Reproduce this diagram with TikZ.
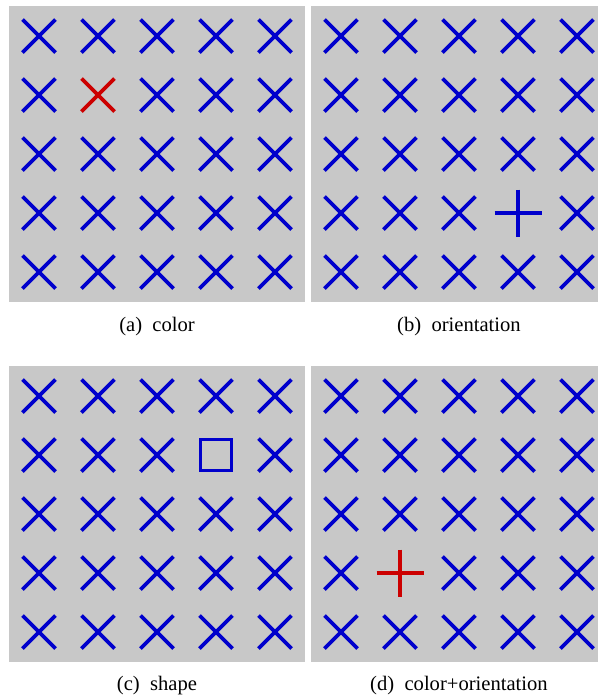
\documentclass[tikz,border=0pt]{standalone}
\usepackage{fontspec}
\setmainfont{Liberation Serif}
\usepackage{tikz}
\usetikzlibrary{positioning}
\definecolor{panelgray}{HTML}{C8C8C8}
\definecolor{itemblue}{HTML}{0000CC}
\definecolor{itemred}{HTML}{CC0000}

\begin{document}
\begin{tikzpicture}[
  x=0.5pt, y=-0.5pt,
  panel/.style={fill=panelgray, minimum width=148pt, minimum height=148pt, inner sep=0pt},
  item/.style={line width=1.8pt, itemblue},
  target/.style={line width=1.8pt, itemred},
  caption/.style={font=\fontsize{10.3}{12}\selectfont, inner sep=0pt},
]
\useasboundingbox (0,0) rectangle (598,698);

% Panels
\node[panel] (pa) at (157,154) {};
\node[panel] (pb) at (459,154) {};
\node[panel] (pc) at (157,514) {};
\node[panel] (pd) at (459,514) {};

% Distractors
\foreach \px/\py/\odd in {9/6/11, 311/6/33, 9/366/31, 311/366/13} {
  \foreach \i in {0,...,4} {
    \foreach \j in {0,...,4} {
      \ifnum\i\j=\odd \else
      \begin{scope}[shift={({\px+30+59*\i},{\py+30+59*\j})}]
        \draw[item] (-16.5,-16.5) -- (16.5,16.5) (-16.5,16.5) -- (16.5,-16.5);
      \end{scope}
      \fi
    }
  }
}

% Targets
\draw[target] (81.5,78.5) -- (114.5,111.5) (81.5,111.5) -- (114.5,78.5);
\draw[item] (494.5,213) -- (541.5,213) (518,189.5) -- (518,236.5);
\draw[item] (200.5,439.5) rectangle (231.5,470.5);
\draw[target] (376.5,573) -- (423.5,573) (400,549.5) -- (400,596.5);

% Captions
\node[caption] (capa) at (157,327) {(a)\hspace{0.5em}color};
\node[caption] (capb) at (459,327) {(b)\hspace{0.5em}orientation};
\node[caption] (capc) at (157,686) {(c)\hspace{0.5em}shape};
\node[caption] (capd) at (459,686) {(d)\hspace{0.5em}color+orientation};

\end{tikzpicture}
\end{document}
